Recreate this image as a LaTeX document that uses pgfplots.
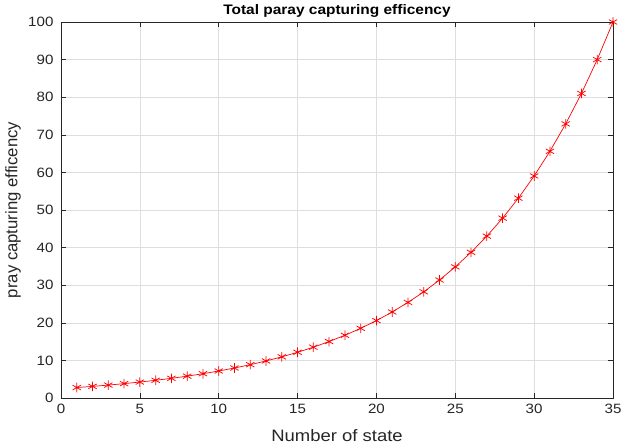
\documentclass[border=0pt]{standalone}
\usepackage{pgfplots}
\pgfplotsset{compat=1.18}
\usepackage{fontspec}
\setmainfont{Liberation Sans}
\newfontfamily\stretched{Liberation Sans}[FakeStretch=1.12]
\definecolor{axgray}{RGB}{38,38,38}
\definecolor{gridgray}{RGB}{222,222,222}
\begin{document}
\begin{tikzpicture}[x=1pt,y=1pt]
\useasboundingbox (-61,-48) rectangle (567,398);
\begin{axis}[
  at={(0,0)}, anchor=south west,
  scale only axis,
  width=552pt, height=376pt,
  xmin=0, xmax=35, ymin=0, ymax=100,
  xtick={0,5,...,35}, ytick={0,10,...,100},
  grid=major,
  major grid style={draw=gridgray, line width=0.5pt},
  axis line style={draw=axgray, line width=0.6pt},
  tick style={draw=axgray, line width=0.5pt},
  tick align=inside,
  major tick length=5pt,
  tick label style={font=\stretched\fontsize{13.5}{15}\selectfont, text=axgray},
  xticklabel style={yshift=-3pt},
  yticklabel style={xshift=-4pt},
  /pgf/number format/assume math mode=true,
  xlabel={Number of state},
  ylabel={pray capturing efficency},
  xlabel style={font=\stretched\fontsize{16.5}{18}\selectfont, text=axgray, at={(axis description cs:0.5,-0.101)}, anchor=center},
  ylabel style={font=\fontsize{16.7}{18}\selectfont, text=axgray, at={(axis description cs:-0.087,0.5)}, anchor=center},
  every axis title shift=0pt,
  title={Total paray capturing efficency},
  title style={font=\stretched\bfseries\fontsize{13.8}{15}\selectfont, text=black, at={(axis description cs:0.5,1.030)}, anchor=center},
]
\addplot[red, line width=0.7pt, mark=asterisk, mark size=4.8pt, mark options={line width=0.75pt}] coordinates {
(1,2.78)(2,3.09)(3,3.43)(4,3.82)(5,4.24)(6,4.71)(7,5.23)(8,5.81)(9,6.46)(10,7.18)
(11,7.98)(12,8.86)(13,9.85)(14,10.94)(15,12.16)(16,13.51)(17,15.01)(18,16.68)(19,18.53)(20,20.59)
(21,22.88)(22,25.42)(23,28.24)(24,31.38)(25,34.87)(26,38.74)(27,43.05)(28,47.83)(29,53.14)(30,59.05)
(31,65.61)(32,72.9)(33,81)(34,90)(35,100)
};
\end{axis}
\end{tikzpicture}
\end{document}
